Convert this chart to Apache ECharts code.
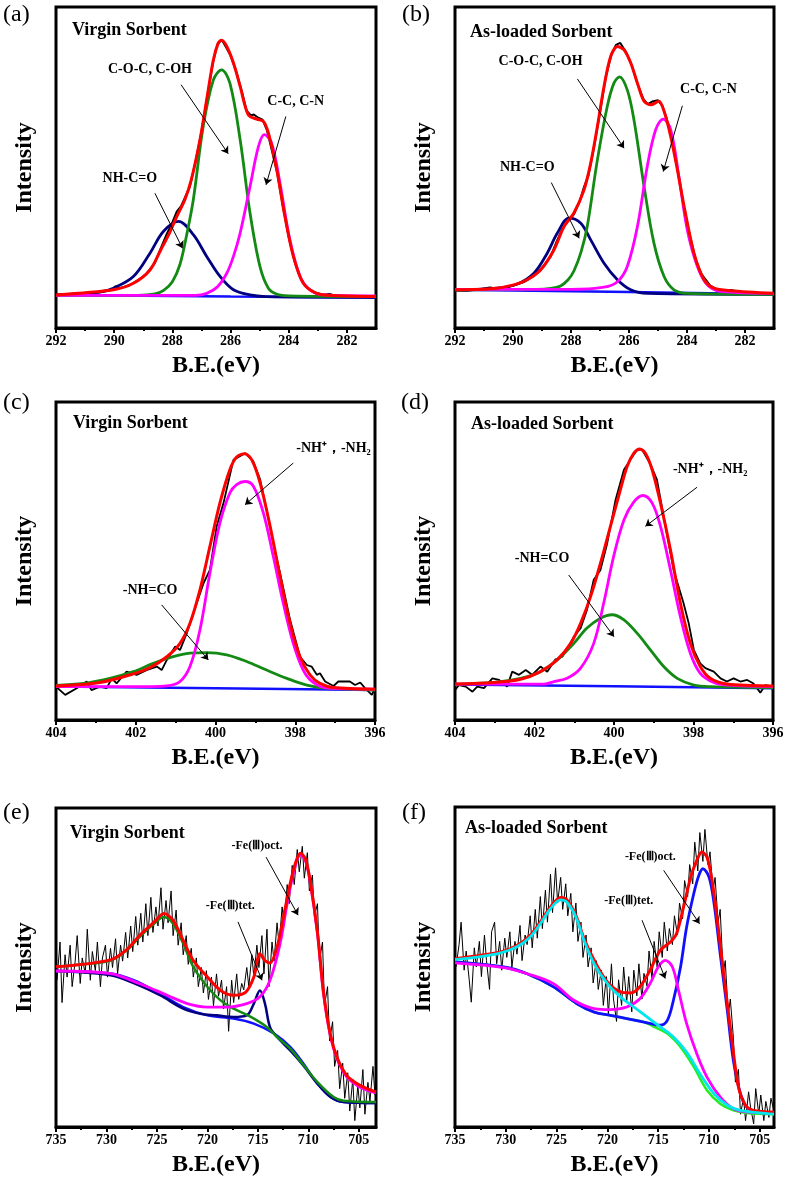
<!DOCTYPE html>
<html>
<head>
<meta charset="utf-8">
<script src="https://cdn.jsdelivr.net/npm/echarts@6/dist/echarts.min.js"></script>
<style>
  html, body { margin: 0; padding: 0; background: #fff; }
  #chart { width: 787px; height: 1180px; }
</style>
</head>
<body>
<div id="chart"></div>
<script>
// tick values
const ticksC1s = [292, 290, 288, 286, 284, 282]
const minorC1s = [291, 289, 287, 285, 283]
const ticksN1s = [404, 402, 400, 398, 396]
const minorN1s = [403, 401, 399, 397]
const ticksFe = [735, 730, 725, 720, 715, 710, 705]
const minorFe = [732.5, 727.5, 722.5, 717.5, 712.5, 707.5]

// (a) C1s virgin  [B.E., intensity]
const aRaw = [[292,11.2],[291.5,11.0],[291,11.3],[290.5,11.9],[290.1,12.6],[289.95,13.8],[289.8,13.2],[289.5,14.0],[289.2,15.5],[288.9,17.5],[288.6,21.0],[288.4,25.5],[288.2,29.8],[288.0,33.5],[287.85,36.8],[287.7,38.5],[287.55,41.5],[287.4,44.5],[287.2,52.5],[287.0,61.5],[286.8,72.5],[286.6,83.0],[286.45,88.5],[286.3,89.9],[286.15,87.5],[286.0,85.0],[285.8,80.0],[285.6,73.5],[285.45,68.0],[285.3,66.5],[285.2,66.8],[285.05,65.8],[284.9,65.2],[284.75,62.0],[284.6,56.5],[284.4,49.0],[284.2,38.5],[284.0,29.0],[283.8,21.5],[283.6,16.5],[283.4,13.5],[283.1,11.9],[282.8,11.2],[282.6,11.4],[282.4,10.9],[282.0,10.7],[281.5,10.6],[281.1,10.2]]
const aBase = [[292,11.1],[286,10.6],[281,10.3]]
const aNH = [[292,11.1],[290.5,12.0],[290.03,13.2],[289.34,16.8],[288.77,24.0],[288.31,30.7],[287.79,33.8],[287.28,29.7],[286.82,23.0],[286.36,16.8],[285.9,12.7],[285.33,11.1],[284.8,10.6],[281,10.4]]
const aCOC = [[292,11.0],[289.2,11.0],[288.6,11.4],[288.3,12.5],[288.0,15.2],[287.74,20.5],[287.5,30.0],[287.28,40.5],[286.94,63.1],[286.59,77.5],[286.31,80.6],[286.02,76.4],[285.67,59.0],[285.33,36.4],[284.99,19.9],[284.7,13.2],[284.4,11.3],[284.0,10.8],[281,10.6]]
const aCC = [[292,11.0],[287.2,11.0],[286.82,11.6],[286.45,13.6],[286.13,17.8],[285.9,23.0],[285.67,30.2],[285.33,44.6],[285.04,57.0],[284.84,60.6],[284.59,58.0],[284.3,45.6],[283.96,28.1],[283.61,16.8],[283.27,12.7],[282.8,11.1],[281,10.8]]
const aFit = [[292,11.1],[290.03,12.7],[289.34,14.7],[288.77,18.8],[288.4,25.0],[288.1,30.2],[287.85,35.3],[287.57,40.5],[287.35,46.6],[287.05,59.0],[286.82,71.4],[286.59,83.7],[286.42,88.9],[286.31,89.7],[286.13,87.8],[285.9,82.7],[285.67,75.5],[285.39,66.7],[285.1,65.4],[284.87,64.7],[284.7,61.1],[284.41,49.7],[284.13,35.3],[283.84,23.0],[283.5,14.7],[283.04,11.6],[282.47,10.9],[281,10.6]]

// (b) C1s as-loaded
const bRaw = [[292,12.5],[291.6,12.4],[291.2,12.8],[290.8,13.4],[290.4,12.9],[290.0,14.0],[289.6,15.2],[289.3,16.8],[289.0,19.5],[288.7,23.0],[288.5,27.5],[288.3,31.5],[288.1,34.0],[287.9,36.0],[287.7,40.0],[287.55,44.5],[287.4,48.0],[287.2,57.0],[287.0,67.5],[286.8,78.5],[286.6,85.5],[286.45,88.3],[286.3,88.9],[286.1,86.0],[285.9,82.0],[285.7,76.0],[285.5,71.5],[285.35,70.0],[285.2,70.8],[285.0,71.2],[284.85,69.5],[284.7,65.5],[284.5,58.0],[284.3,48.5],[284.1,38.0],[283.9,29.5],[283.7,22.0],[283.5,17.5],[283.2,14.0],[283.0,13.0],[282.8,12.4],[282.5,12.6],[282.2,12.1],[281.8,11.8],[281.3,11.6],[281,11.5]]
const bBase = [[292,12.7],[286,12.0],[281,11.3]]
const bNH = [[292,12.7],[290.66,13.1],[289.85,14.5],[289.28,17.8],[288.82,24.0],[288.47,30.2],[288.07,34.8],[287.67,33.3],[287.32,28.1],[286.86,20.9],[286.4,15.8],[285.94,12.7],[285.37,11.6],[281,11.3]]
const bCOC = [[292,12.7],[289.2,12.8],[288.7,13.1],[288.36,13.9],[288.1,15.8],[287.9,18.5],[287.65,24.5],[287.44,32.2],[287.09,52.8],[286.75,69.3],[286.52,76.5],[286.33,78.4],[286.06,74.4],[285.83,65.2],[285.48,44.6],[285.14,27.1],[284.79,16.8],[284.45,12.7],[284.0,11.6],[281,11.3]]
const bCC = [[292,12.8],[288,12.8],[286.86,13.5],[286.4,15.2],[286.06,19.9],[285.71,32.2],[285.37,50.8],[285.08,62.1],[284.82,65.4],[284.56,62.1],[284.28,47.7],[283.99,31.2],[283.64,19.9],[283.3,14.2],[282.85,12.2],[281,11.6]]
const bFit = [[292,12.7],[290.66,13.1],[289.97,14.2],[289.51,15.8],[289.05,18.8],[288.59,25.0],[288.24,32.2],[287.9,36.4],[287.55,43.6],[287.32,51.8],[287.09,63.1],[286.86,75.5],[286.63,84.8],[286.4,87.8],[286.17,86.8],[285.94,82.7],[285.71,76.5],[285.48,70.9],[285.25,69.8],[284.97,70.9],[284.79,67.8],[284.56,60.0],[284.33,49.7],[284.1,38.4],[283.76,24.0],[283.41,15.8],[283.07,13.2],[282.5,12.4],[281,11.6]]

// (c) N1s virgin
const cRaw = [[404.0,10.5],[403.77,7.9],[403.48,10.0],[403.23,12.1],[403.11,9.4],[402.9,10.5],[402.73,10.0],[402.6,13.1],[402.48,11.5],[402.23,15.2],[401.98,14.2],[401.73,15.7],[401.47,16.8],[401.35,15.7],[401.22,18.9],[401.01,23.1],[400.89,22.0],[400.72,27.3],[400.47,36.7],[400.3,43.0],[400.14,47.2],[399.97,60.9],[399.8,68.2],[399.55,81.8],[399.26,83.9],[399.05,81.3],[398.88,75.6],[398.72,66.1],[398.55,55.6],[398.38,46.2],[398.13,31.5],[397.88,19.9],[397.71,17.3],[397.59,16.8],[397.46,14.2],[397.38,14.7],[397.25,12.1],[397.04,10.7],[396.92,12.1],[396.79,12.1],[396.63,12.1],[396.5,11.0],[396.37,11.8],[396.25,10.0],[396.08,7.9],[396.0,10.0]]
const cBase = [[404,10.5],[400,10.0],[396,9.4]]
const cNHCO = [[404,10.9],[403.31,11.5],[402.65,13.1],[402.06,15.2],[401.56,17.8],[401.06,19.9],[400.64,21.0],[400.22,21.2],[399.72,20.5],[399.22,18.4],[398.72,15.7],[398.21,13.1],[397.71,11.0],[397.21,10.0],[396,9.4]]
const cNH2 = [[404,10.5],[401.6,10.5],[401.22,10.7],[400.89,12.1],[400.64,16.8],[400.39,28.3],[400.14,46.2],[399.89,61.9],[399.64,71.4],[399.47,74.0],[399.26,75.0],[399.05,73.5],[398.8,65.1],[398.55,51.4],[398.3,36.7],[398.05,24.1],[397.8,15.7],[397.55,11.8],[397.2,10.0],[396,9.7]]
const cFit = [[404,10.7],[402.9,11.8],[402.06,14.5],[401.64,16.5],[401.22,19.9],[400.89,24.1],[400.64,30.4],[400.39,40.9],[400.14,54.6],[399.89,68.2],[399.64,78.7],[399.47,82.7],[399.26,83.7],[399.09,81.8],[398.88,74.5],[398.63,60.9],[398.38,45.1],[398.13,30.4],[397.88,19.9],[397.63,14.2],[397.38,11.5],[397.04,10.2],[396,9.7]]

// (d) N1s as-loaded
const dRaw = [[404.0,9.4],[403.9,11.0],[403.73,10.5],[403.56,8.9],[403.44,10.5],[403.27,10.0],[403.06,13.1],[402.89,12.6],[402.69,10.5],[402.56,15.2],[402.39,14.2],[402.22,15.7],[402.06,14.2],[401.85,16.8],[401.68,15.2],[401.47,19.1],[401.3,19.9],[401.14,23.1],[401.01,26.2],[400.84,28.9],[400.68,34.6],[400.51,44.1],[400.34,47.2],[400.17,55.6],[399.96,69.3],[399.75,78.7],[399.59,81.8],[399.42,85.0],[399.29,85.0],[399.08,80.3],[398.92,75.6],[398.75,64.0],[398.5,47.2],[398.25,36.7],[398.12,30.4],[397.99,22.0],[397.83,17.8],[397.7,16.3],[397.49,15.2],[397.32,13.1],[397.16,12.1],[396.99,13.1],[396.82,12.1],[396.65,12.6],[396.49,11.5],[396.32,8.6],[396.19,11.0],[396.0,10.5]]
const dBase = [[404,11.2],[400,10.6],[396,10.0]]
const dNHCO = [[404,11.2],[403.02,11.8],[402.35,13.1],[401.85,15.2],[401.43,18.9],[401.01,24.1],[400.68,28.9],[400.34,32.0],[400.05,33.1],[399.75,31.5],[399.42,27.3],[399.08,22.0],[398.75,16.8],[398.41,13.1],[397.99,11.0],[397.57,10.5],[396,10.2]]
const dNH2 = [[404,11.3],[401.76,11.3],[401.51,12.1],[401.18,13.1],[400.84,16.3],[400.51,24.1],[400.26,36.7],[400.01,51.4],[399.75,62.9],[399.5,68.6],[399.27,70.6],[399.04,68.2],[398.83,60.9],[398.58,47.2],[398.33,32.5],[398.08,21.0],[397.83,14.7],[397.49,11.8],[397.16,11.0],[396,10.5]]
const dFit = [[404,11.3],[403.02,11.8],[402.35,12.8],[401.85,15.2],[401.43,18.9],[401.09,24.1],[400.84,30.4],[400.59,38.8],[400.34,49.3],[400.09,60.9],[399.84,72.4],[399.67,79.7],[399.5,83.9],[399.35,85.2],[399.21,83.9],[399.04,78.7],[398.83,68.2],[398.58,53.5],[398.33,36.7],[398.08,24.1],[397.83,16.8],[397.58,13.1],[397.16,11.3],[396,10.7]]

// (e) Fe2p virgin
const eRaw = [[734.9,46],[734.6,58],[734.4,39],[734.1,54],[733.9,47],[733.6,57],[733.4,44],[733.1,52],[732.9,60],[732.6,45],[732.4,53],[732.1,48],[731.9,62],[731.6,46],[731.4,55],[731.1,49],[730.9,58],[730.6,44],[730.4,53],[730.1,57],[729.9,47],[729.6,56],[729.4,50],[729.1,59],[728.9,48],[728.6,57],[728.4,52],[728.1,61],[727.9,53],[727.6,63],[727.4,55],[727.1,66],[726.9,57],[726.6,67],[726.4,58],[726.1,70],[725.9,60],[725.6,72],[725.4,61],[725.1,69],[724.9,63],[724.6,75],[724.4,62],[724.1,71],[723.9,64],[723.6,74],[723.4,60],[723.1,68],[722.9,57],[722.6,64],[722.4,54],[722.1,60],[721.9,51],[721.6,56],[721.4,47],[721.1,53],[720.9,44],[720.6,50],[720.4,42],[720.1,49],[719.9,40],[719.6,47],[719.4,38],[719.1,48],[718.9,41],[718.6,46],[718.4,37],[718.1,44],[717.9,30],[717.6,46],[717.4,39],[717.1,48],[716.9,40],[716.6,45],[716.4,43],[716.1,50],[715.9,44],[715.6,54],[715.4,47],[715.1,57],[714.9,50],[714.6,60],[714.4,48],[714.1,62],[713.9,44],[713.6,58],[713.4,52],[713.1,64],[712.9,57],[712.6,69],[712.4,63],[712.1,76],[711.9,70],[711.6,82],[711.4,76],[711.1,87],[710.9,80],[710.6,88],[710.4,78],[710.1,86],[709.9,74],[709.6,79],[709.4,66],[709.1,70],[708.9,52],[708.6,58],[708.4,38],[708.1,44],[707.9,27],[707.6,33],[707.4,19],[707.1,24],[706.9,12],[706.6,20],[706.4,9],[706.1,17],[705.9,5],[705.6,15],[705.4,2],[705.1,13],[704.9,6],[704.6,18],[704.4,4],[704.1,14],[703.9,8],[703.6,19],[703.4,10]]
const eBg = [[735,48.9],[729.6,48.1],[727.3,46.0],[724.7,41.8],[722.4,37.6],[720.0,35.0],[717.4,34.0],[715.4,32.4],[713.4,29.3],[711.8,25.1],[710.5,19.9],[709.1,13.6],[707.8,9.4],[706.5,7.8],[703.3,7.5]]
const eTet = [[735,48.9],[729.6,47.6],[727.3,45.1],[724.7,41.3],[722.4,37.1],[720.7,35.5],[719.1,35.0],[717.4,34.5],[716.1,35.0],[715.4,38.7],[714.8,42.8],[714.3,38.7],[713.8,31.3],[713.1,28.2],[711.8,24.0],[710.5,19.3],[709.1,13.6],[707.8,9.4],[706.5,7.8],[703.3,7.5]]
const eSat = [[735,50.2],[732.3,51.0],[729.6,52.2],[728.0,55.4],[726.7,59.6],[725.3,63.7],[724.3,65.8],[723.4,63.7],[722.4,57.5],[721.4,50.2],[720.0,43.9],[718.7,39.7],[717.4,37.1],[715.7,34.5],[714.1,31.3],[713.1,28.2],[711.8,24.6],[710.5,19.5],[709.1,14.1],[707.5,9.4],[706.5,8.2],[703.3,7.8]]
const eOct = [[735,48.9],[729.6,48.1],[726.7,44.9],[724.0,41.3],[722.0,38.7],[720.0,37.6],[718.1,37.6],[716.1,38.7],[714.8,40.8],[713.8,46.0],[712.8,57.5],[712.1,70.0],[711.4,80.5],[710.8,85.2],[710.3,83.6],[709.8,76.3],[709.1,60.6],[708.5,41.8],[707.8,28.2],[707.1,20.9],[706.2,15.7],[705.2,13.1],[704.2,11.5],[703.3,10.7]]
const eFit = [[735,50.2],[729.6,52.4],[728.0,55.6],[726.7,60.1],[725.3,64.2],[724.3,66.9],[723.4,64.8],[722.4,58.5],[721.4,52.2],[720.0,47.0],[718.7,42.8],[717.4,41.3],[716.2,42.3],[715.4,47.0],[714.8,54.3],[714.3,52.2],[713.8,51.4],[713.1,56.4],[712.4,66.9],[711.8,76.3],[711.3,82.5],[710.8,85.8],[710.3,84.1],[709.8,76.8],[709.1,61.1],[708.5,42.3],[707.8,28.7],[707.1,21.4],[706.2,16.2],[705.2,13.6],[704.2,12.0],[703.3,11.0]]

// (f) Fe2p as-loaded
const fRaw = [[734.9,50],[734.6,57],[734.4,64],[734.1,49],[733.9,55],[733.6,46],[733.4,39],[733.1,56],[732.9,50],[732.6,58],[732.4,47],[732.1,60],[731.9,52],[731.6,43],[731.4,61],[731.1,64],[730.9,51],[730.6,58],[730.4,49],[730.1,59],[729.9,53],[729.6,61],[729.4,50],[729.1,58],[728.9,54],[728.6,63],[728.4,52],[728.1,60],[727.9,57],[727.6,66],[727.4,56],[727.1,68],[726.9,59],[726.6,72],[726.4,62],[726.1,74],[725.9,64],[725.6,79],[725.4,67],[725.1,81],[724.9,70],[724.6,78],[724.4,68],[724.1,76],[723.9,66],[723.6,73],[723.4,61],[723.1,70],[722.9,58],[722.6,64],[722.4,53],[722.1,60],[721.9,50],[721.6,56],[721.4,45],[721.1,52],[720.9,43],[720.6,49],[720.4,38],[720.1,47],[719.9,35],[719.6,51],[719.4,40],[719.1,33],[718.9,46],[718.6,38],[718.4,50],[718.1,39],[717.9,47],[717.6,36],[717.4,49],[717.1,41],[716.9,51],[716.6,40],[716.4,48],[716.1,44],[715.9,55],[715.6,46],[715.4,58],[715.1,50],[714.9,61],[714.6,53],[714.4,64],[714.1,55],[713.9,62],[713.6,57],[713.4,66],[713.1,60],[712.9,70],[712.6,65],[712.4,77],[712.1,72],[711.9,82],[711.6,76],[711.4,89],[711.1,80],[710.9,92],[710.6,83],[710.4,93],[710.1,82],[709.9,86],[709.6,74],[709.4,78],[709.1,64],[708.9,68],[708.6,48],[708.4,52],[708.1,35],[707.9,40],[707.6,28],[707.4,14],[707.1,18],[706.9,4],[706.6,9],[706.4,2],[706.1,11],[705.9,6],[705.6,1],[705.4,12],[705.1,4],[704.9,10],[704.6,2],[704.4,8],[704.1,3],[703.9,9],[703.6,5]]
const fBg = [[735,51.6],[730.2,50.0],[727.9,47.9],[725.3,43.8],[723.0,38.5],[721.3,35.9],[719.7,34.9],[718.1,33.9],[716.4,32.8],[715.4,31.3],[714.1,29.2],[712.8,25.0],[711.5,18.8],[710.2,11.5],[708.9,7.3],[707.6,5.2],[706.3,4.4],[703.6,4.0]]
const fOct = [[735,51.6],[730.2,50.0],[727.9,47.9],[725.3,43.8],[723.0,38.5],[721.3,35.9],[719.7,34.9],[718.1,33.9],[716.4,32.8],[714.8,31.8],[714.1,33.3],[713.5,39.6],[712.8,50.0],[712.2,62.5],[711.5,72.9],[711.0,78.6],[710.6,80.7],[710.0,78.1],[709.5,69.8],[708.9,54.2],[708.2,36.5],[707.6,20.8],[706.9,10.4],[706.3,6.3],[705.3,4.7],[703.6,4.2]]
const fSat = [[735,52.3],[732.8,53.1],[730.5,54.4],[728.9,56.3],[727.6,59.4],[726.6,63.5],[725.6,68.2],[724.6,71.0],[724.0,70.3],[723.1,65.6],[722.3,58.3],[721.3,51.0],[720.0,44.8],[718.7,40.6],[717.4,37.5],[716.1,34.4],[714.8,31.3],[713.5,28.1],[712.2,23.4],[710.9,16.7],[709.5,10.4],[708.2,6.8],[706.9,5.2],[705.0,4.4],[703.6,4.0]]
const fTet = [[735,51.3],[730.2,49.8],[727.9,47.9],[725.3,44.8],[723.3,39.6],[721.3,37.0],[719.7,36.7],[718.1,37.5],[716.8,40.1],[715.8,44.8],[715.0,50.0],[714.3,52.1],[713.6,50.0],[713.0,42.7],[712.2,32.3],[711.2,22.9],[710.2,15.6],[708.9,9.4],[707.6,5.7],[706.3,4.7],[703.6,4.4]]
const fFit = [[735,52.6],[730.5,54.7],[728.9,56.7],[727.6,59.9],[726.6,64.1],[725.6,68.8],[724.6,71.7],[724.0,71.0],[723.1,66.1],[722.3,58.9],[721.3,52.1],[720.0,45.3],[718.7,42.2],[717.7,41.9],[716.8,43.8],[715.8,49.0],[714.8,55.2],[713.8,57.8],[713.2,60.4],[712.5,68.8],[711.8,78.1],[711.2,83.3],[710.7,85.9],[710.2,84.4],[709.7,77.1],[709.1,62.5],[708.4,43.8],[707.7,26.0],[707.1,12.5],[706.4,6.8],[705.6,5.2],[703.6,4.7]]

const FONT = '"Liberation Serif", "Times New Roman", serif'
const RED = '#ff0000', GREEN = '#138a13', MAG = '#ff00ff', NAVY = '#000080', BLUE = '#1010ff'

// lines: [data, color, width, smooth], drawn in order
const panels = [
  {
    letter: '(a)', letterPos: [3, 15], title: 'Virgin Sorbent', titlePos: [72, 30],
    grid: { left: 56, top: 7, width: 320, height: 321 },
    xRange: [281, 292], yRange: [0.9, 100], ticks: ticksC1s, minor: minorC1s,
    lines: [[aRaw, '#000', 2, false], [aBase, BLUE, 2.5, false], [aNH, NAVY, 2.8, 0.35], [aCOC, GREEN, 2.8, 0.35], [aCC, MAG, 2.8, 0.35], [aFit, RED, 3, 0.3]],
    notes: [
      { text: 'C-O-C, C-OH', at: [288.77, 80.8], from: [287.7, 76.0], to: [286.08, 54.7] },
      { text: 'C-C, C-N', at: [283.76, 70.9], from: [284.1, 66.2], to: [284.78, 45.1] },
      { text: 'NH-C=O', at: [289.46, 47.0], from: [288.6, 42.5], to: [287.65, 25.5] }
    ]
  },
  {
    letter: '(b)', letterPos: [402, 15], title: 'As-loaded Sorbent', titlePos: [470, 32],
    grid: { left: 455, top: 7, width: 319, height: 321 },
    xRange: [281, 292], yRange: [0.9, 100], ticks: ticksC1s, minor: minorC1s,
    lines: [[bRaw, '#000', 2, false], [bBase, BLUE, 2.5, false], [bNH, NAVY, 2.8, 0.35], [bCOC, GREEN, 2.8, 0.35], [bCC, MAG, 2.8, 0.35], [bFit, RED, 3, 0.3]],
    notes: [
      { text: 'C-O-C, C-OH', at: [289.05, 83.2], from: [287.78, 77.8], to: [286.17, 56.4] },
      { text: 'C-C, C-N', at: [283.26, 74.5], from: [284.16, 69.5], to: [284.82, 49.2] },
      { text: 'NH-C=O', at: [289.51, 50.5], from: [288.68, 45.8], to: [287.72, 28.6] }
    ]
  },
  {
    letter: '(c)', letterPos: [3, 403], title: 'Virgin Sorbent', titlePos: [73, 423],
    grid: { left: 56, top: 402, width: 319, height: 318 },
    xRange: [396, 404], yRange: [0, 100], ticks: ticksN1s, minor: minorN1s,
    lines: [[cRaw, '#000', 1.8, false], [cBase, BLUE, 2.5, false], [cNHCO, GREEN, 2.8, 0.35], [cNH2, MAG, 2.8, 0.35], [cFit, RED, 3, 0.3]],
    notes: [
      { text: '-NH=CO', at: [401.64, 40.9], from: [401.35, 36.2], to: [400.18, 18.9] },
      { text: '-NH\u207A\uFF0C-NH\u2082', at: [397.04, 85.5], from: [398.05, 80.8], to: [399.26, 67.7] }
    ]
  },
  {
    letter: '(d)', letterPos: [401, 403], title: 'As-loaded Sorbent', titlePos: [471, 424],
    grid: { left: 455, top: 402, width: 318, height: 318 },
    xRange: [396, 404], yRange: [0, 100], ticks: ticksN1s, minor: minorN1s,
    lines: [[dRaw, '#000', 1.8, false], [dBase, BLUE, 2.5, false], [dNHCO, GREEN, 2.8, 0.35], [dNH2, MAG, 2.8, 0.35], [dFit, RED, 3, 0.3]],
    notes: [
      { text: '-NH=CO', at: [401.81, 50.9], from: [401.14, 45.6], to: [400.0, 26.2] },
      { text: '-NH\u207A\uFF0C-NH\u2082', at: [397.58, 78.7], from: [397.91, 73.2], to: [399.21, 60.9] }
    ]
  },
  {
    letter: '(e)', letterPos: [3, 813], title: 'Virgin Sorbent', titlePos: [70, 833],
    grid: { left: 56, top: 808, width: 320, height: 319 },
    xRange: [703.3, 735], yRange: [0, 100], ticks: ticksFe, minor: minorFe,
    lines: [[eRaw, '#000', 1, false], [eBg, BLUE, 2.5, 0.35], [eTet, NAVY, 2.5, 0.35], [eSat, GREEN, 2.5, 0.35], [eOct, MAG, 2.8, 0.35], [eFit, RED, 3, 0.3]],
    notes: [
      { text: '-Fe(\u2162)oct.', at: [715.09, 88.0], from: [714.19, 84.6], to: [711.02, 66.4] },
      { text: '-Fe(\u2162)tet.', at: [717.73, 69.3], from: [716.97, 64.3], to: [714.59, 46.0] }
    ]
  },
  {
    letter: '(f)', letterPos: [402, 813], title: 'As-loaded Sorbent', titlePos: [465, 828],
    grid: { left: 455, top: 807, width: 319, height: 320 },
    xRange: [703.6, 735], yRange: [0, 100], ticks: ticksFe, minor: minorFe,
    lines: [[fRaw, '#000', 1, false], [fBg, '#22ee22', 2.5, 0.35], [fOct, BLUE, 2.8, 0.35], [fTet, MAG, 2.8, 0.35], [fFit, RED, 3, 0.3], [fSat, '#00e5ee', 2.8, 0.35]],
    notes: [
      { text: '-Fe(\u2162)oct.', at: [715.77, 84.4], from: [714.46, 80.2], to: [710.93, 63.5] },
      { text: '-Fe(\u2162)tet.', at: [717.9, 70.8], from: [716.59, 64.6], to: [714.3, 46.4] }
    ]
  }
]

const chart = echarts.init(document.getElementById('chart'), null, { renderer: 'canvas' })

const option = {
  animation: false,
  backgroundColor: '#fff',
  grid: [],
  xAxis: [],
  yAxis: [],
  series: [],
  graphic: []
}

panels.forEach((p, i) => {
  const small = i >= 4
  option.grid.push({
    ...p.grid,
    show: true,
    borderColor: '#000',
    borderWidth: 3,
    backgroundColor: 'transparent'
  })
  // major ticks + labels
  option.xAxis.push({
    type: 'value', gridIndex: i, position: 'bottom', inverse: true,
    min: p.xRange[0], max: p.xRange[1],
    name: 'B.E.(eV)', nameLocation: 'middle', nameGap: 26,
    nameTextStyle: { fontFamily: FONT, fontWeight: 'bold', fontSize: 24, color: '#000' },
    axisLine: { show: true, onZero: false, lineStyle: { color: '#000', width: 3 } },
    axisTick: { show: true, inside: false, length: 5, customValues: p.ticks, lineStyle: { color: '#000', width: 2 } },
    axisLabel: { show: true, customValues: p.ticks, margin: 6, fontFamily: FONT, fontWeight: 'bold', fontSize: 14, color: '#000' },
    splitLine: { show: false }
  })
  // minor ticks
  option.xAxis.push({
    type: 'value', gridIndex: i, position: 'bottom', inverse: true,
    min: p.xRange[0], max: p.xRange[1],
    axisLine: { show: false, onZero: false },
    axisTick: { show: true, inside: false, length: 3, customValues: p.minor, lineStyle: { color: '#000', width: 2 } },
    axisLabel: { show: false },
    splitLine: { show: false }
  })
  option.yAxis.push({
    type: 'value', gridIndex: i, min: p.yRange[0], max: p.yRange[1],
    name: 'Intensity', nameLocation: 'middle', nameGap: 19, nameRotate: 90,
    nameTextStyle: { fontFamily: FONT, fontWeight: 'bold', fontSize: 24, color: '#000' },
    axisLine: { show: false }, axisTick: { show: false }, axisLabel: { show: false },
    splitLine: { show: false }
  })

  p.lines.forEach(([data, color, width, smooth], k) => {
    const s = {
      type: 'line', xAxisIndex: i * 2, yAxisIndex: i, data,
      showSymbol: false, symbol: 'none', smooth, silent: true,
      lineStyle: { color, width },
      emphasis: { disabled: true }
    }
    if (k === p.lines.length - 1) {
      s.markLine = {
        silent: true, symbol: ['none', 'arrow'], symbolSize: 7,
        label: { show: false },
        lineStyle: { color: '#000', width: 1, type: 'solid' },
        emphasis: { disabled: true },
        data: p.notes.map(n => [{ coord: n.from }, { coord: n.to }])
      }
      s.markPoint = {
        silent: true, symbol: 'circle', symbolSize: 1,
        itemStyle: { color: 'rgba(0,0,0,0)' },
        emphasis: { disabled: true },
        data: p.notes.map(n => ({
          coord: n.at,
          label: {
            show: true, position: 'inside', formatter: n.text,
            fontFamily: FONT, fontWeight: 'bold', fontSize: small ? 12 : 14, color: '#000'
          }
        }))
      }
    }
    option.series.push(s)
  })

  option.graphic.push({
    type: 'text', x: p.letterPos[0], y: p.letterPos[1], silent: true,
    style: { text: p.letter, font: '24px ' + FONT, fill: '#000', textAlign: 'left', textVerticalAlign: 'middle' }
  })
  option.graphic.push({
    type: 'text', x: p.titlePos[0], y: p.titlePos[1], silent: true,
    style: { text: p.title, font: 'bold 18px ' + FONT, fill: '#000', textAlign: 'left', textVerticalAlign: 'middle' }
  })
})

chart.setOption(option)
</script>
</body>
</html>
